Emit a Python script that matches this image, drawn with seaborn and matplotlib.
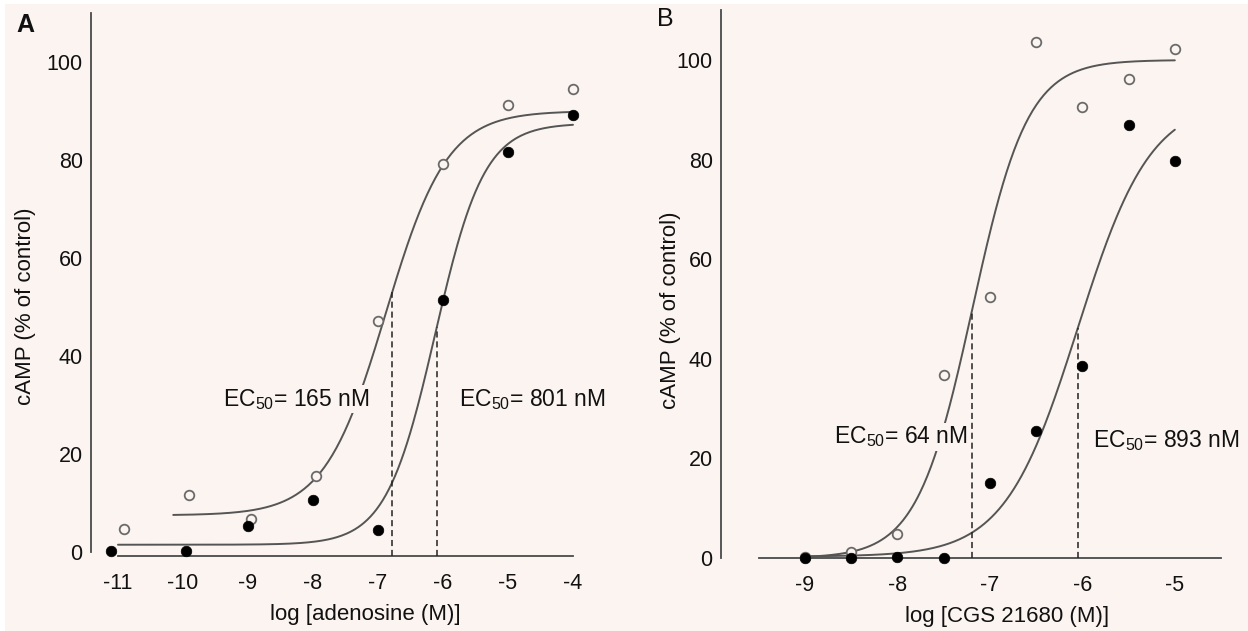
import numpy as np
import pandas as pd
import matplotlib
matplotlib.use("Agg")
import matplotlib.pyplot as plt
from matplotlib.patches import Rectangle
import seaborn as sns

# ---------------- data ----------------
# Panel A: adenosine
a_open_x = [-10.9, -9.9, -8.95, -7.95, -7.0, -6.0, -5.0, -4.0]
a_open_y = [4.7, 11.6, 6.7, 15.5, 47.1, 79.2, 91.2, 94.5]
a_fill_x = [-11.1, -9.95, -9.0, -8.0, -7.0, -6.0, -5.0, -4.0]
a_fill_y = [0.2, 0.2, 5.3, 10.6, 4.5, 51.4, 81.6, 89.2]
# Panel B: CGS 21680
b_open_x = [-9.0, -8.5, -8.0, -7.5, -7.0, -6.5, -6.0, -5.5, -5.0]
b_open_y = [0.2, 1.2, 4.8, 36.7, 52.4, 103.6, 90.6, 96.2, 102.2]
b_fill_x = [-9.0, -8.5, -8.0, -7.5, -7.0, -6.5, -6.0, -5.5, -5.0]
b_fill_y = [0.0, 0.0, 0.3, -0.1, 15.1, 25.5, 38.6, 86.9, 79.7]

# fitted sigmoid parameters (bottom, top, logEC50, hill, x-range)
a_open_fit = dict(bottom=7.5, top=90.0, logec=-6.88, hill=0.92, xr=(-10.15, -4.0))
a_fill_fit = dict(bottom=1.5, top=87.5, logec=-6.12, hill=1.15, xr=(-11.0, -4.0))
b_open_fit = dict(bottom=0.0, top=100.0, logec=-7.19, hill=1.45, xr=(-9.0, -5.0))
b_fill_fit = dict(bottom=0.3, top=92.0, logec=-6.05, hill=1.1, xr=(-9.0, -5.0))

# EC50 labels (nM)
a_ec50 = [165, 801]
b_ec50 = [64, 893]

a_xticks = [-11, -10, -9, -8, -7, -6, -5, -4]
b_xticks = [-9, -8, -7, -6, -5]
yticks = [0, 20, 40, 60, 80, 100]

# ---------------- style ----------------
BG = "#fcf4f1"
CURVE = "#555555"
AXC = "#4a4a4a"
TXT = "#111111"
sns.set_theme(style="white")
plt.rcParams["font.family"] = ["Liberation Sans", "DejaVu Sans"]
plt.rcParams["mathtext.fontset"] = "custom"
plt.rcParams["mathtext.rm"] = "Liberation Sans"
plt.rcParams["mathtext.it"] = "Liberation Sans"
plt.rcParams["mathtext.bf"] = "Liberation Sans:bold"

FS_TICK = 15.5
FS_LAB = 16
FS_EC = 16.5

fig = plt.figure(figsize=(12.48, 6.31), dpi=100)
fig.patch.set_facecolor("white")
fig.add_artist(Rectangle((5 / 1248, 0), 1, 627 / 631, transform=fig.transFigure,
                         facecolor=BG, edgecolor="none", zorder=-10))


def hill(x, p):
    return p["bottom"] + (p["top"] - p["bottom"]) / (1 + 10 ** ((p["logec"] - x) * p["hill"]))


def panel(ax, ox, oy, fx, fy, fits, ec50s, xlim, ylim, xticks, xbounds, xlabel,
          text_pos):
    ax.set_facecolor("none")
    ax.patch.set_alpha(0)
    for p in fits:
        xs = np.linspace(p["xr"][0], p["xr"][1], 300)
        sns.lineplot(x=xs, y=hill(xs, p), ax=ax, color=CURVE, lw=1.4, zorder=2)
    for p, ec in zip(fits, ec50s):
        lx = np.log10(ec * 1e-9)
        ax.plot([lx, lx], [ylim[0], hill(lx, p)], ls=(0, (4, 2.5)), color="#222222",
                lw=1.1, zorder=4)
    for (tx, ty), ec in zip(text_pos, ec50s):
        ax.text(tx, ty, "EC$_{50}$= %d nM" % ec, ha="center", va="center",
                fontsize=FS_EC, color=TXT, zorder=3,
                bbox=dict(facecolor=BG, edgecolor="none", pad=1.0))
    sns.scatterplot(x=ox, y=oy, ax=ax, marker="o", s=48, facecolor=BG,
                    edgecolor="#6a6a6a", linewidth=1.3, zorder=5, clip_on=False)
    sns.scatterplot(x=fx, y=fy, ax=ax, marker="o", s=58, color="black",
                    edgecolor="black", linewidth=0.5, zorder=6, clip_on=False)
    ax.set_xlim(*xlim)
    ax.set_ylim(*ylim)
    ax.set_xticks(xticks)
    ax.set_xticklabels([str(t) for t in xticks])
    ax.set_yticks(yticks)
    ax.set_yticklabels([str(t) for t in yticks])
    for s in ["top", "right"]:
        ax.spines[s].set_visible(False)
    for s in ["left", "bottom"]:
        ax.spines[s].set_color(AXC)
        ax.spines[s].set_linewidth(1.3)
    ax.spines["left"].set_bounds(0, 110)
    ax.spines["bottom"].set_bounds(*xbounds)
    ax.tick_params(axis="both", direction="out", length=4, width=1.1, color=AXC,
                   labelsize=FS_TICK, labelcolor=TXT)
    ax.tick_params(axis="x", pad=8)
    ax.tick_params(axis="y", pad=2)
    ax.set_xlabel(xlabel, fontsize=FS_LAB, color=TXT)
    ax.set_ylabel("cAMP (% of control)", fontsize=FS_LAB, color=TXT)


axA = fig.add_axes([91 / 1248, 75 / 631, 488.5 / 1248, 543 / 631])
panel(axA, a_open_x, a_open_y, a_fill_x, a_fill_y, [a_open_fit, a_fill_fit], a_ec50,
      (-11.415, -3.9), (-0.8, 110), a_xticks, (-11, -4), "log [adenosine (M)]",
      [(-8.25, 31.2), (-4.63, 31.2)])
axA.xaxis.set_label_coords(0.561, -0.088)
axA.yaxis.set_label_coords(-0.112, 0.46)

axB = fig.add_axes([721 / 1248, 73 / 631, 501 / 1248, 547.8 / 631])
panel(axB, b_open_x, b_open_y, b_fill_x, b_fill_y, [b_open_fit, b_fill_fit], b_ec50,
      (-9.908, -4.49), (0, 110), b_xticks, (-9.5, -4.5), "log [CGS 21680 (M)]",
      [(-7.96, 24.3), (-5.09, 23.5)])
axB.xaxis.set_label_coords(0.571, -0.088)
axB.yaxis.set_label_coords(-0.08, 0.453)

fig.text(25 / 1248, 1 - 25 / 631, "A", ha="center", va="center", fontsize=18,
         weight="bold", color=TXT)
fig.text(665 / 1248, 1 - 19 / 631, "B", ha="center", va="center", fontsize=18,
         color=TXT)

fig.savefig("out.png", dpi=100, facecolor=fig.get_facecolor())
